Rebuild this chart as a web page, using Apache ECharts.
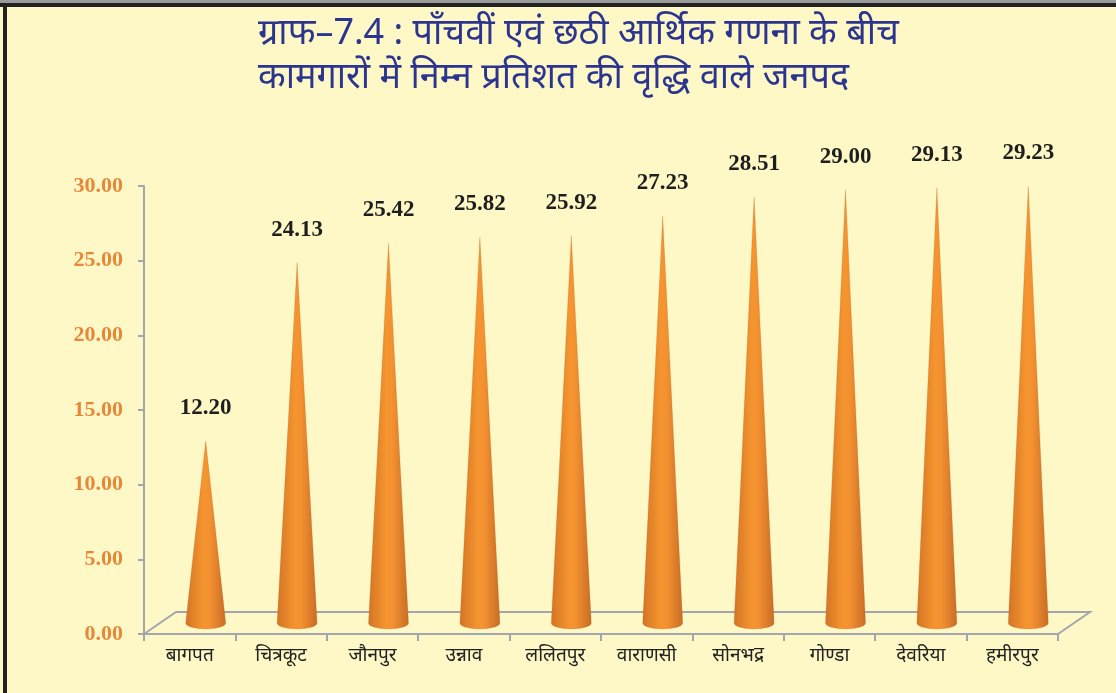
<!DOCTYPE html>
<html>
<head>
<meta charset="utf-8">
<script src="https://cdn.jsdelivr.net/npm/echarts@6/dist/echarts.min.js"></script>
<style>
html,body{margin:0;padding:0;background:#FEF8C6;}
#chart{width:1116px;height:693px;}
</style>
</head>
<body>
<div id="chart"></div>
<script>
const titleLines = ['ग्राफ–7.4 : पाँचवीं एवं छठी आर्थिक गणना के बीच', 'कामगारों में निम्न प्रतिशत की वृद्धि वाले जनपद'];
const districts = ['बागपत', 'चित्रकूट', 'जौनपुर', 'उन्नाव', 'ललितपुर', 'वाराणसी', 'सोनभद्र', 'गोण्डा', 'देवरिया', 'हमीरपुर'];
const growthPct = [12.20, 24.13, 25.42, 25.82, 25.92, 27.23, 28.51, 29.00, 29.13, 29.23];
const yTicks = { min: 0, max: 30, interval: 5 };

const chart = echarts.init(document.getElementById('chart'), null, { renderer: 'canvas' });
const DEPTH = [32, -22];
const CONE_R = 20, CONE_RY = 6;
const coneFill = new echarts.graphic.LinearGradient(0, 0, 1, 0, [
  { offset: 0, color: '#D47425' },
  { offset: 0.45, color: '#F5952F' },
  { offset: 0.6, color: '#F39131' },
  { offset: 1, color: '#C96C25' }
]);

function renderCone(params, api) {
  const idx = api.value(0);
  const val = api.value(1);
  const base = api.coord([idx, 0]);
  const top = api.coord([idx, val]);
  const cx = base[0] + DEPTH[0] / 2;
  const by = base[1] + DEPTH[1] / 2;
  const ty = top[1] + DEPTH[1] / 2;
  const d = 'M' + (cx - CONE_R) + ' ' + by + ' L' + cx + ' ' + ty + ' L' + (cx + CONE_R) + ' ' + by +
    ' A' + CONE_R + ' ' + CONE_RY + ' 0 0 1 ' + (cx - CONE_R) + ' ' + by + ' Z';
  return {
    type: 'group',
    children: [
      { type: 'path', shape: { pathData: d }, style: { fill: coneFill, stroke: 'rgba(170,90,30,0.35)', lineWidth: 0.6 } },
      { type: 'text', x: cx, y: ty - 33, style: { text: val.toFixed(2), fill: '#1E1E1E', font: 'bold 23px "Liberation Serif", "Times New Roman", serif', align: 'center', verticalAlign: 'middle' } }
    ]
  };
}

function renderFloor(params, api) {
  const bw = api.size([1, 0])[0];
  const first = api.coord([0, 0]);
  const last = api.coord([districts.length - 1, 0]);
  const l = first[0] - bw / 2, r = last[0] + bw / 2, y = first[1];
  const st = { stroke: '#A3A6AE', lineWidth: 2, fill: null };
  return {
    type: 'group',
    children: [
      { type: 'polyline', shape: { points: [[l, y], [l + DEPTH[0], y + DEPTH[1]], [r + DEPTH[0], y + DEPTH[1]], [r, y]] }, style: st }
    ]
  };
}

chart.setOption({
  backgroundColor: '#FEF8C6',
  animation: false,
  graphic: [
    { type: 'rect', shape: { x: 0, y: 0, width: 1116, height: 4 }, style: { fill: '#9A9A9A' } },
    { type: 'rect', shape: { x: 0, y: 3, width: 1116, height: 4 }, style: { fill: '#222' } },
    { type: 'rect', shape: { x: 3, y: 3, width: 4, height: 690 }, style: { fill: '#222' } },
    { type: 'text', left: 258, top: 12, style: { text: titleLines.join('\n'), fill: '#2B358F', font: '36px "Noto Sans", sans-serif', lineHeight: 44 } }
  ],
  grid: { left: 144, right: 58, top: 186, bottom: 59 },
  xAxis: {
    type: 'category',
    data: districts,
    axisLine: { lineStyle: { color: '#A3A6AE', width: 2 } },
    axisTick: { show: true, length: 7, lineStyle: { color: '#A3A6AE', width: 2 } },
    axisLabel: { color: '#222', fontSize: 19, margin: 12, fontFamily: '"Noto Sans", sans-serif' }
  },
  yAxis: {
    type: 'value',
    min: yTicks.min, max: yTicks.max, interval: yTicks.interval,
    axisLine: { show: true, lineStyle: { color: '#A3A6AE', width: 2 } },
    axisTick: { show: true, length: 6, lineStyle: { color: '#A3A6AE', width: 2 } },
    splitLine: { show: false },
    axisLabel: { color: '#E8873A', fontSize: 22, fontWeight: 'bold', fontFamily: '"Liberation Serif", "Times New Roman", serif', margin: 21, formatter: v => v.toFixed(2) }
  },
  series: [
    { type: 'custom', z: 1, renderItem: renderFloor, data: [[0, 0]], silent: true },
    { type: 'custom', z: 3, renderItem: renderCone, data: growthPct.map((v, i) => [i, v]), encode: { x: 0, y: 1 } }
  ]
});
</script>
</body>
</html>
